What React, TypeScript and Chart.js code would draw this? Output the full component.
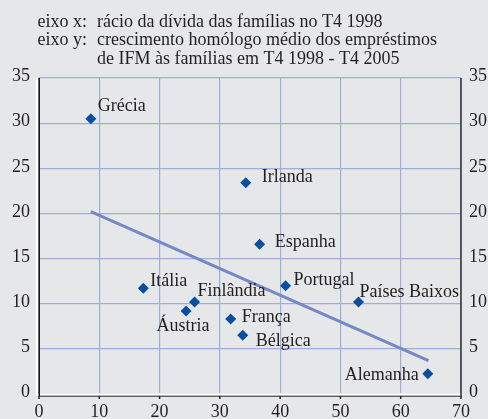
import React, { useEffect, useRef } from 'react';
import { Chart, registerables } from 'chart.js';

Chart.register(...registerables);

// ---- data ----
const countries = ['Grécia', 'Irlanda', 'Espanha', 'Portugal', 'Países Baixos', 'Alemanha', 'Itália', 'Finlândia', 'Áustria', 'França', 'Bélgica'];
const debtRatio = [8.6, 34.3, 36.6, 40.9, 53.0, 64.5, 17.3, 25.8, 24.4, 31.8, 33.8];
const loanGrowth = [30.5, 23.4, 16.6, 12.0, 10.2, 2.25, 11.7, 10.2, 9.2, 8.3, 6.5];
const trendX = [8.6, 64.6];
const trendY = [20.2, 3.7];
const xTicks = [0, 10, 20, 30, 40, 50, 60, 70];
const yTicks = [0, 5, 10, 15, 20, 25, 30, 35];
const headerLabels = ['eixo x:', 'eixo y:'];
const headerTexts = [
  ['rácio da dívida das famílias no T4 1998'],
  ['crescimento homólogo médio dos empréstimos', 'de IFM às famílias em T4 1998 - T4 2005'],
];

// ---- style ----
const FONT = '"Liberation Serif", "Times New Roman", serif';
const BG = '#e6e7e9';
const GRID = '#9fadd8';
const POINT = '#0a4f9f';
const TREND = '#7588c8';
const TEXT = '#231f20';
// label offsets [dx, dy, align] relative to each marker
const labelPlacement: [number, number, CanvasTextAlign][] = [
  [7, -12, 'left'],
  [16, -5, 'left'],
  [15, -2, 'left'],
  [8, -5, 'left'],
  [1, -10, 'left'],
  [-9, 2, 'right'],
  [7, -7, 'left'],
  [3, -11, 'left'],
  [-3, 15, 'center'],
  [11, -2, 'left'],
  [13, 6, 'left'],
];

const framePlugin = {
  id: 'frame',
  beforeDraw(chart: any) {
    const ctx = chart.ctx;
    ctx.save();
    ctx.fillStyle = BG;
    ctx.fillRect(0, 0, chart.width, chart.height);
    // header
    ctx.fillStyle = TEXT;
    ctx.font = `18px ${FONT}`;
    ctx.textBaseline = 'alphabetic';
    ctx.textAlign = 'left';
    const baselines = [[26.5], [45, 64]];
    headerLabels.forEach((lab, i) => {
      ctx.fillText(lab, 37.5, baselines[i][0]);
      headerTexts[i].forEach((t, j) => ctx.fillText(t, 97, baselines[i][j]));
    });
    ctx.restore();
  },
  beforeDatasetsDraw(chart: any) {
    const ctx = chart.ctx;
    const { left, right, top, bottom } = chart.chartArea;
    const xs = chart.scales.x;
    ctx.save();
    // white strips
    ctx.strokeStyle = '#ffffff';
    ctx.lineWidth = 2.5;
    ctx.beginPath();
    ctx.moveTo(left - 2, top);
    ctx.lineTo(left - 2, bottom + 0.5);
    ctx.lineTo(right, bottom + 0.5);
    ctx.stroke();
    // left axis
    ctx.strokeStyle = '#111111';
    ctx.lineWidth = 1.5;
    ctx.beginPath();
    ctx.moveTo(left + 0.2, top);
    ctx.lineTo(left + 0.2, bottom + 2);
    ctx.stroke();
    // bottom axis
    ctx.strokeStyle = '#222222';
    ctx.lineWidth = 1;
    ctx.beginPath();
    ctx.moveTo(left, bottom + 2.2);
    ctx.lineTo(right, bottom + 2.2);
    ctx.stroke();
    // x tick marks
    ctx.lineWidth = 1.5;
    xTicks.forEach((v) => {
      const px = xs.getPixelForValue(v);
      ctx.beginPath();
      ctx.moveTo(px, bottom + 2);
      ctx.lineTo(px, bottom + 5);
      ctx.stroke();
    });
    // right axis
    ctx.strokeStyle = '#333333';
    ctx.lineWidth = 1.5;
    ctx.beginPath();
    ctx.moveTo(right, top);
    ctx.lineTo(right, bottom + 3);
    ctx.stroke();
    ctx.restore();
  },
  afterDatasetsDraw(chart: any) {
    const ctx = chart.ctx;
    const meta = chart.getDatasetMeta(1);
    ctx.save();
    ctx.fillStyle = TEXT;
    ctx.font = `18px ${FONT}`;
    ctx.textBaseline = 'middle';
    countries.forEach((name, i) => {
      const el = meta.data[i];
      const [dx, dy, align] = labelPlacement[i];
      ctx.textAlign = align;
      ctx.fillText(name, el.x + dx, el.y + dy);
    });
    ctx.restore();
  },
};

export default function App() {
  const ref = useRef<HTMLCanvasElement | null>(null);
  useEffect(() => {
    if (!ref.current) return;
    const tickFont = { family: FONT, size: 18 };
    const chart = new Chart(ref.current, {
      type: 'scatter',
      data: {
        datasets: [
          {
            type: 'line',
            data: trendX.map((x, i) => ({ x, y: trendY[i] })),
            borderColor: TREND,
            borderWidth: 3,
            pointRadius: 0,
            fill: false,
            order: 2,
          } as any,
          {
            data: debtRatio.map((x, i) => ({ x, y: loanGrowth[i] })),
            pointStyle: 'rectRot',
            pointRadius: 5.5,
            backgroundColor: POINT,
            borderColor: POINT,
            borderWidth: 0,
            order: 1,
          },
        ],
      },
      options: {
        responsive: false,
        animation: false,
        devicePixelRatio: 1,
        layout: { padding: { top: 78, left: 0, right: 0, bottom: 0 } },
        plugins: { legend: { display: false }, tooltip: { enabled: false }, title: { display: false } },
        scales: {
          x: {
            type: 'linear',
            min: 0,
            max: 70,
            afterFit: (s: any) => { s.height = 25; },
            afterBuildTicks: (s: any) => { s.ticks = xTicks.map((v) => ({ value: v })); },
            grid: { color: GRID, lineWidth: 1.2, drawTicks: false },
            border: { display: false },
            ticks: { font: tickFont, color: TEXT, padding: 7, maxRotation: 0 },
          },
          y: {
            type: 'linear',
            position: 'left',
            min: 0,
            max: 35,
            afterFit: (s: any) => { s.width = 39; },
            afterBuildTicks: (s: any) => { s.ticks = yTicks.map((v) => ({ value: v })); },
            grid: { color: GRID, lineWidth: 1.2, drawTicks: false },
            border: { display: false },
            ticks: { font: tickFont, color: TEXT, padding: 9, labelOffset: -1.5 },
          },
          y2: {
            type: 'linear',
            position: 'right',
            min: 0,
            max: 35,
            afterFit: (s: any) => { s.width = 27; },
            afterBuildTicks: (s: any) => { s.ticks = yTicks.map((v) => ({ value: v })); },
            grid: { display: false, drawTicks: false },
            border: { display: false },
            ticks: { font: tickFont, color: TEXT, padding: 8, labelOffset: -1.5 },
          },
        },
      },
      plugins: [framePlugin],
    });
    return () => chart.destroy();
  }, []);
  return (
    <div style={{ position: 'absolute', left: 0, top: 0, width: 488, height: 419, background: BG }}>
      <canvas ref={ref} width={488} height={419} style={{ display: 'block' }} />
    </div>
  );
}
